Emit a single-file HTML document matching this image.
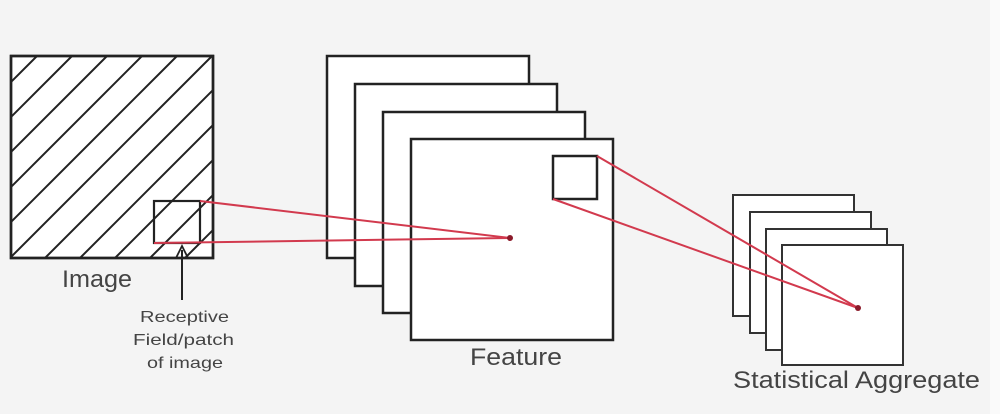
<!DOCTYPE html>
<html><head><meta charset="utf-8"><style>
html,body{margin:0;padding:0;background:#f4f4f4;}
svg{display:block;}
text{font-family:"Liberation Sans",sans-serif;fill:#444;}
</style></head><body>
<svg width="1000" height="414" viewBox="0 0 1000 414">
<defs><clipPath id="ic"><rect x="11" y="56" width="202" height="202"/></clipPath></defs>
<rect x="0" y="0" width="1000" height="414" fill="#f4f4f4"/>
<rect x="990" y="0" width="10" height="414" fill="#fafafa"/>
<g>
<rect x="11" y="56" width="202" height="202" fill="#fff" stroke="#222" stroke-width="2.5"/>
<g clip-path="url(#ic)" stroke="#222" stroke-width="2" id="hatch"></g>
<rect x="11" y="56" width="202" height="202" fill="none" stroke="#222" stroke-width="2.5"/>
<rect x="154" y="201" width="46" height="42" fill="none" stroke="#222" stroke-width="2.2"/>
</g>
<text x="62" y="287" font-size="24" textLength="70" lengthAdjust="spacingAndGlyphs">Image</text>
<g>
<line x1="182" y1="300" x2="182" y2="250" stroke="#222" stroke-width="2"/>
<path d="M176,258 L182,246 L188,258" fill="none" stroke="#222" stroke-width="1.8"/>
</g>
<g font-size="16">
<text x="140" y="322" textLength="89" lengthAdjust="spacingAndGlyphs">Receptive</text>
<text x="133" y="345" textLength="101" lengthAdjust="spacingAndGlyphs">Field/patch</text>
<text x="147" y="368" textLength="76" lengthAdjust="spacingAndGlyphs">of image</text>
</g>
<g fill="#fff" stroke="#222" stroke-width="2.5">
<rect x="327" y="56" width="202" height="202"/>
<rect x="355" y="84" width="202" height="202"/>
<rect x="383" y="112" width="202" height="201"/>
<rect x="411" y="139" width="202" height="201"/>
<rect x="553" y="156" width="44" height="43"/>
</g>
<text x="470" y="365" font-size="24" textLength="92" lengthAdjust="spacingAndGlyphs">Feature</text>
<g fill="#fff" stroke="#333" stroke-width="2">
<rect x="733" y="195" width="121" height="121"/>
<rect x="750" y="212" width="121" height="121"/>
<rect x="766" y="229" width="121" height="121"/>
<rect x="782" y="245" width="121" height="120"/>
</g>
<text x="733" y="388" font-size="24" textLength="247" lengthAdjust="spacingAndGlyphs">Statistical Aggregate</text>
<g stroke="#d23a4e" stroke-width="2">
<line x1="200" y1="201" x2="510" y2="238"/>
<line x1="154" y1="243" x2="510" y2="238"/>
<line x1="597" y1="156" x2="858" y2="308"/>
<line x1="553" y1="199" x2="858" y2="308"/>
</g>
<circle cx="510" cy="238" r="3" fill="#8b1a2a"/>
<circle cx="858" cy="308" r="3" fill="#8b1a2a"/>
</svg>
<script>
const hatchOffsets=[0,1,2,3,4,5,6,7,8,9,10,11];
const g=document.getElementById('hatch');
hatchOffsets.forEach(i=>{
  const c=26+i*35;
  const l=document.createElementNS('http://www.w3.org/2000/svg','line');
  l.setAttribute('x1',11+c-202);l.setAttribute('y1',258);
  l.setAttribute('x2',11+c);l.setAttribute('y2',56);
  
  
  g.appendChild(l);
});
</script>
</body></html>
